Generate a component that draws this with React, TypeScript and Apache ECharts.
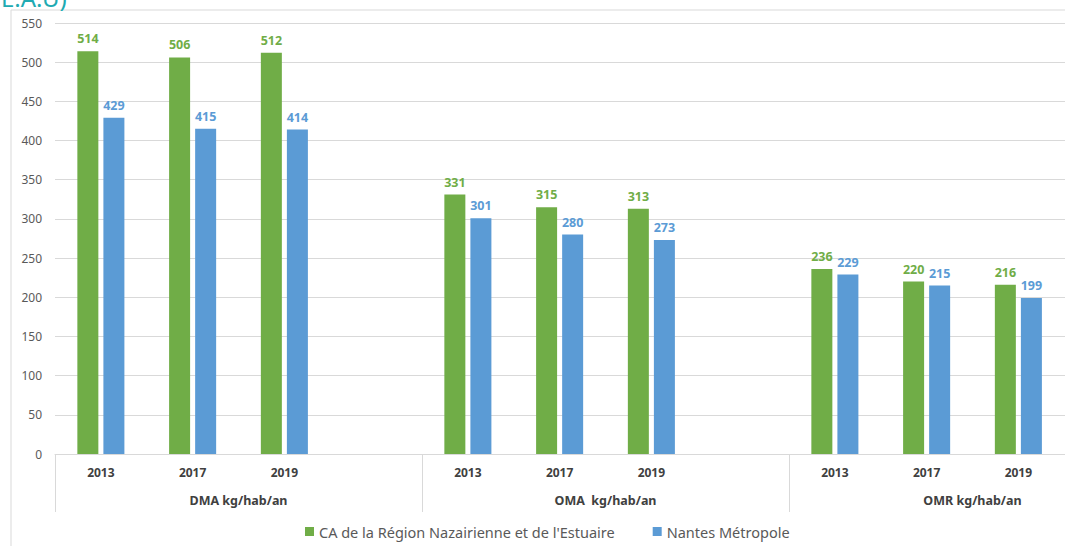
import React, { useEffect, useRef } from "react";
import * as echarts from "echarts";

// Year categories per indicator group (4th slot left empty as spacing)
const years = ["2013", "2017", "2019", "", "2013", "2017", "2019", "", "2013", "2017", "2019", ""];
const groups = ["DMA kg/hab/an", "OMA  kg/hab/an", "OMR kg/hab/an"];
const seriesNames = ["CA de la Région Nazairienne et de l'Estuaire", "Nantes Métropole"];

const caValues: (number | string)[] = [514, 506, 512, "-", 331, 315, 313, "-", 236, 220, 216, "-"];
const nantesValues: (number | string)[] = [429, 415, 414, "-", 301, 280, 273, "-", 229, 215, 199, "-"];

const yTicks = { min: 0, max: 550, interval: 50 };

const GREEN = "#70AD47";
const BLUE = "#5B9BD5";
const FONT = "'Noto Sans', 'Open Sans', sans-serif";

export default function App() {
  const ref = useRef<HTMLDivElement>(null);

  useEffect(() => {
    if (!ref.current) return;
    const chart = echarts.init(ref.current, undefined, { renderer: "svg" });

    const labelStyle = (color: string) => ({
      show: true,
      position: "top" as const,
      distance: 6,
      color,
      fontWeight: "bold" as const,
      fontSize: 12.5,
      fontFamily: FONT,
    });

    chart.setOption({
      animation: false,
      backgroundColor: "#ffffff",
      textStyle: { fontFamily: FONT },
      graphic: [
        {
          type: "rect",
          shape: { x: 11, y: 10, width: 1400, height: 800 },
          style: { fill: "#ffffff", stroke: "#d9d9d9", lineWidth: 1 },
          z: -10,
          silent: true,
        },
        {
          type: "text",
          x: 1,
          y: 9,
          style: {
            text: "E.A.U)",
            fill: "#20aab2",
            fontSize: 24,
            fontFamily: FONT,
            verticalAlign: "bottom",
          },
        },
      ],
      grid: { left: 55, right: 44, top: 23, bottom: 92, containLabel: false },
      legend: {
        left: 300,
        top: 519,
        itemWidth: 9,
        itemHeight: 9,
        itemGap: 38,
        icon: "rect",
        textStyle: { color: "#595959", fontSize: 14.5, fontFamily: FONT },
        data: seriesNames,
      },
      xAxis: [
        {
          type: "category",
          data: years,
          position: "bottom",
          axisLine: { show: true, lineStyle: { color: "#d9d9d9", width: 1 } },
          axisTick: { show: false },
          axisLabel: {
            interval: 0,
            margin: 12,
            color: "#404040",
            fontWeight: "bold",
            fontSize: 12,
            fontFamily: FONT,
          },
        },
        {
          type: "category",
          data: groups,
          position: "bottom",
          axisLine: { show: false },
          axisTick: {
            show: true,
            interval: 0,
            length: 58,
            lineStyle: { color: "#d9d9d9", width: 1 },
          },
          axisLabel: {
            interval: 0,
            margin: 40,
            color: "#404040",
            fontWeight: "bold",
            fontSize: 12.5,
            fontFamily: FONT,
          },
        },
      ],
      yAxis: {
        type: "value",
        min: yTicks.min,
        max: yTicks.max,
        interval: yTicks.interval,
        axisLine: { show: false },
        axisTick: { show: false },
        axisLabel: { color: "#595959", fontSize: 12, margin: 13, fontFamily: FONT },
        splitLine: { lineStyle: { color: "#d9d9d9", width: 1 } },
      },
      series: [
        {
          name: seriesNames[0],
          type: "bar",
          xAxisIndex: 0,
          data: caValues,
          barWidth: 21,
          barGap: "24%",
          itemStyle: { color: GREEN },
          label: labelStyle(GREEN),
        },
        {
          name: seriesNames[1],
          type: "bar",
          xAxisIndex: 0,
          data: nantesValues,
          barWidth: 21,
          barGap: "24%",
          itemStyle: { color: BLUE },
          label: labelStyle(BLUE),
        },
      ],
    });

    return () => chart.dispose();
  }, []);

  return (
    <div
      style={{
        position: "fixed",
        left: 0,
        top: 0,
        width: 1065,
        height: 546,
        overflow: "hidden",
        background: "#ffffff",
      }}
    >
      <div ref={ref} style={{ width: 1200, height: 546 }} />
    </div>
  );
}
